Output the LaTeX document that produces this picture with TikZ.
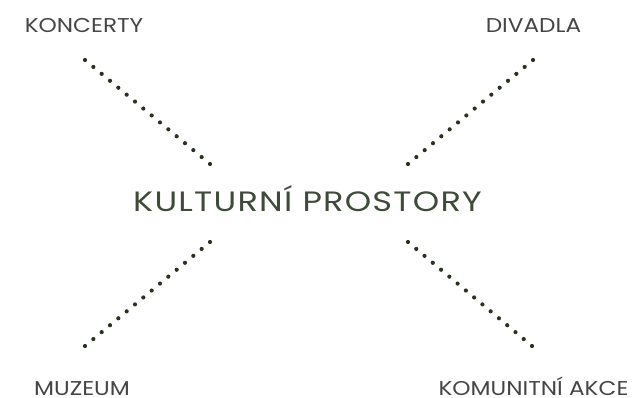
\documentclass[tikz,border=0pt]{standalone}
\usepackage{fontspec}
\usetikzlibrary{calc}
\setmainfont{Poppins}
\newfontfamily\lblfont{Poppins}[FakeStretch=1.16]
\newfontfamily\ttlfont{Poppins}[FakeStretch=1.2,LetterSpace=4.4]
\definecolor{dotgreen}{HTML}{28331F}
\definecolor{titlegreen}{HTML}{3D4B38}
\definecolor{labelgray}{HTML}{454545}
\begin{document}
\begin{tikzpicture}[x=1pt,y=-1pt,
  lbl/.style={text=labelgray,font=\lblfont\fontsize{20}{20}\selectfont,inner sep=0pt,text depth=0pt,anchor=base},
  ttl/.style={text=titlegreen,font=\ttlfont\fontsize{28}{28}\selectfont,inner sep=0pt,text depth=0pt,anchor=base},
  dotfill/.style={fill=dotgreen}]
\useasboundingbox (0,0) rectangle (633,398);
\node[ttl] (center) at (307.5,211.5) {KULTURNÍ PROSTORY};
\node[lbl] (konc) at (84,32.5) {KONCERTY};
\node[lbl] (div) at (533.5,32.5) {DIVADLA};
\node[lbl] (muz) at (82,395.5) {MUZEUM};
\node[lbl] (kom) at (533.5,395.5) {KOMUNITNÍ AKCE};
\coordinate (a1) at (85,60);   \coordinate (a2) at (210,164);
\coordinate (b1) at (533,60);  \coordinate (b2) at (408,164);
\coordinate (c1) at (85,346);  \coordinate (c2) at (210,242);
\coordinate (d1) at (532,346); \coordinate (d2) at (408,242);
\foreach \p/\q in {a1/a2,b1/b2,c1/c2,d1/d2}{
  \foreach \t in {0,...,15}{
    \fill[dotfill] ($(\p)!\t/15!(\q)$) circle (2.1pt);
  }
}
\end{tikzpicture}
\end{document}
